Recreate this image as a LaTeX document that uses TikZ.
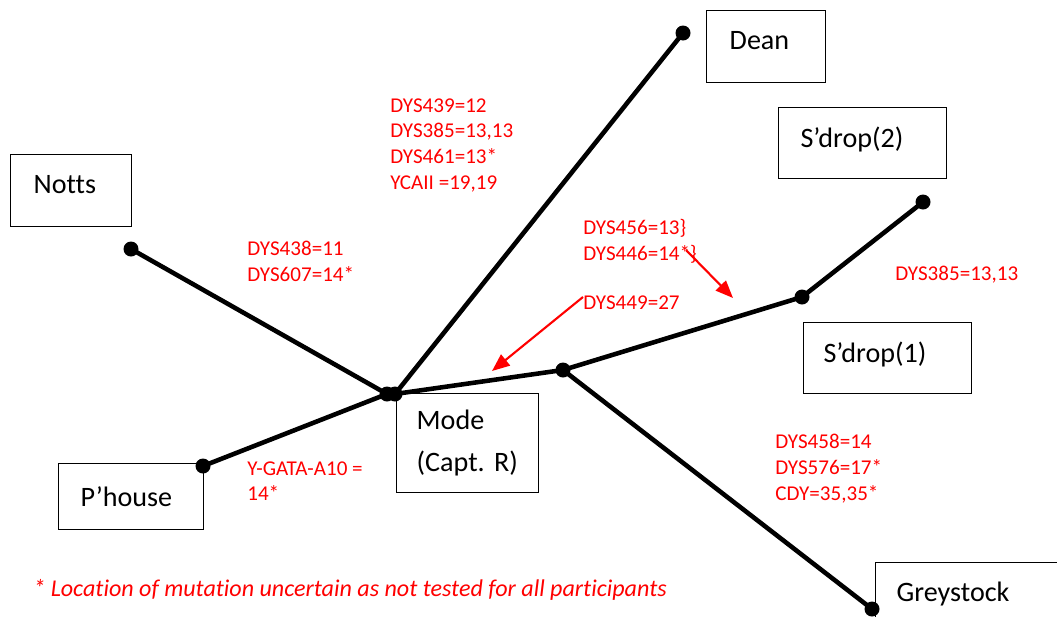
\documentclass[tikz,border=0pt]{standalone}
\usepackage{fontspec}
\setmainfont{Carlito}[Ligatures=NoCommon]
\usetikzlibrary{positioning, arrows.meta}
\definecolor{mutred}{RGB}{255,0,0}

\tikzset{
    branch/.style={line width=2.6pt, line cap=round},
    tipdot/.style={circle, fill=black, inner sep=0pt, minimum size=0.3cm},
    namebox/.style={draw, line width=0.8pt, anchor=north west, align=left, font=\fontsize{16}{19.5}\selectfont},
    lift/.style={text depth=0.24cm},
    mutlabel/.style={text=mutred, anchor=north west, align=left, inner sep=0pt, font=\fontsize{12}{14.7}\selectfont},
    pointer/.style={draw=mutred, line width=1.2pt, -{Triangle[length=10pt, width=8pt]}}
}

\begin{document}
\begin{tikzpicture}[x=0.02cm, y=-0.02cm]
        % page
        \useasboundingbox (0,0) rectangle (1057,616);

        % branch points
        \coordinate (nottsend) at (131,249);
        \coordinate (phouseend) at (203,466);
        \coordinate (modea) at (387,394);
        \coordinate (modeb) at (395,394);
        \coordinate (deanend) at (683,33);
        \coordinate (split) at (563,370);
        \coordinate (sdrop1end) at (802,297);
        \coordinate (sdrop2end) at (923,202);
        \coordinate (greyend) at (872,609);

        % branches
        \draw[branch] (nottsend) -- (modea);
        \draw[branch] (phouseend) -- (modea);
        \draw[branch] (modeb) -- (deanend);
        \draw[branch] (modeb) -- (split);
        \draw[branch] (split) -- (sdrop1end) -- (sdrop2end);
        \draw[branch] (split) -- (greyend);

        % dots
        \foreach \p in {nottsend,phouseend,modea,modeb,deanend,split,sdrop1end,sdrop2end,greyend}
        {
            \node[tipdot] at (\p) {};
        }

        % name boxes
        \node[namebox, lift, inner xsep=0.46cm, text width=1.46cm, minimum height=1.44cm] (dean) at (706,10) {Dean};
        \node[namebox, lift, inner xsep=0.44cm, text width=2.48cm, minimum height=1.42cm] (sdrop2) at (778,107) {S’drop(2)};
        \node[namebox, lift, inner xsep=0.46cm, text width=1.5cm, minimum height=1.44cm] (notts) at (10,154) {Notts};
        \node[namebox, lift, inner xsep=0.4cm, text width=2.56cm, minimum height=1.42cm] (sdrop1) at (803,322) {S’drop(1)};
        \node[namebox, inner xsep=0.4cm, text width=2.04cm, minimum height=1.98cm,
              font=\fontsize{16}{24}\selectfont] (mode) at (396,393) {Mode\\(Capt.~R)};
        \node[namebox, inner xsep=0.44cm, text width=2.02cm, minimum height=1.32cm] (phouse) at (58,463) {P’house};
        \node[namebox, inner xsep=0.42cm, text width=2.96cm, minimum height=1.24cm] (grey) at (875,562) {Greystock};

        % mutations
        \node[mutlabel] (mutdean) at (390,98) {DYS439=12\\DYS385=13,13\\DYS461=13*\\YCAII =19,19};
        \node[mutlabel] (mutnotts) at (247,241) {DYS438=11\\DYS607=14*};
        \node[mutlabel] (mutsdrop) at (583,219) {DYS456=13\}\\DYS446=14*\}};
        \node[mutlabel] (mutsplit) at (583,295) {DYS449=27};
        \node[mutlabel] (mutsdrop2) at (895,266) {DYS385=13,13};
        \node[mutlabel] (mutphouse) at (247,461) {Y-GATA-A10 =\\14*};
        \node[mutlabel] (mutgrey) at (775,434) {DYS458=14\\DYS576=17*\\CDY=35,35*};

        % pointers
        \coordinate (ptrafrom) at (686,250);
        \coordinate (ptrato) at (733,298);
        \coordinate (ptrbfrom) at (583,297);
        \coordinate (ptrbto) at (492,371);
        \draw[pointer] (ptrafrom) -- (ptrato);
        \draw[pointer] (ptrbfrom) -- (ptrbto);

        % footnote
        \node[anchor=base west, inner sep=0pt, text=mutred, font=\fontsize{13.7}{16}\selectfont\itshape] (footnote) at (33,596)
            {* Location of mutation uncertain as not tested for all participants};
    \end{tikzpicture}
\end{document}
